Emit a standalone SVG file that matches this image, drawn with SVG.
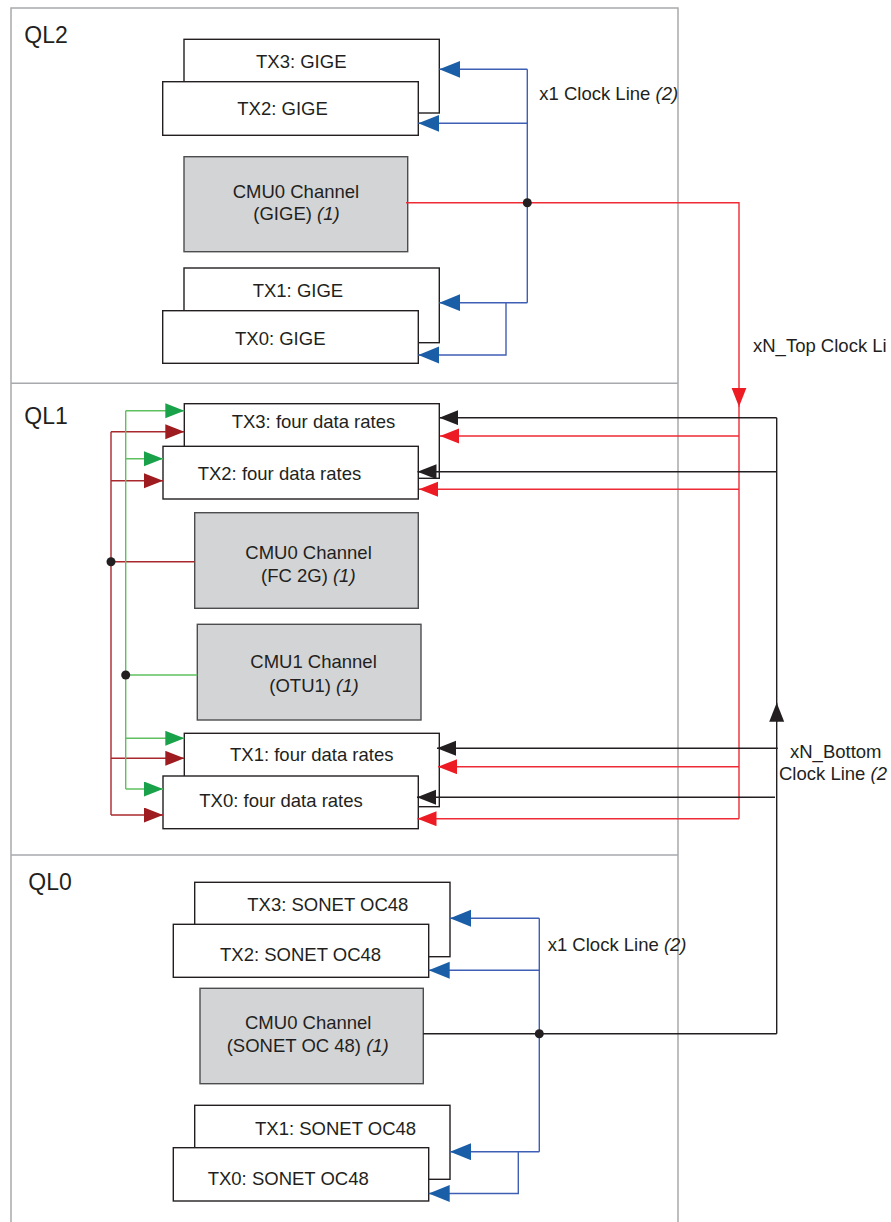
<svg xmlns="http://www.w3.org/2000/svg" width="891" height="1222" viewBox="0 0 891 1222">
<style>
text{font-family:"Liberation Sans",Arial,sans-serif;font-size:18.5px;fill:#231f20}
.ql{font-size:23px}
.it{font-style:italic}
.box{fill:#fff;stroke:#231f20;stroke-width:1.4}
.cmu{fill:#d3d4d6;stroke:#4d4d4f;stroke-width:1.4}
.frame{fill:none;stroke:#a7a9ac;stroke-width:1.5}
.blue{fill:none;stroke:#3f5fb5;stroke-width:1.4}
.red{fill:none;stroke:#ee2a35;stroke-width:1.4}
.dred{fill:none;stroke:#a8282d;stroke-width:1.4}
.green{fill:none;stroke:#5fc060;stroke-width:1.4}
.black{fill:none;stroke:#231f20;stroke-width:1.4}
.dot{fill:#231f20}
</style>
<defs>
<marker id="aBlue" markerUnits="userSpaceOnUse" markerWidth="22" markerHeight="18" refX="21" refY="8.5" orient="auto"><path d="M0,0 L21,8.5 L0,17 Z" fill="#1a5ea8"/></marker>
<marker id="aRed" markerUnits="userSpaceOnUse" markerWidth="20" markerHeight="16" refX="19" refY="7.5" orient="auto"><path d="M0,0 L19,7.5 L0,15 Z" fill="#ed1c24"/></marker>
<marker id="aDred" markerUnits="userSpaceOnUse" markerWidth="20" markerHeight="16" refX="19" refY="7.5" orient="auto"><path d="M0,0 L19,7.5 L0,15 Z" fill="#9e1b20"/></marker>
<marker id="aGreen" markerUnits="userSpaceOnUse" markerWidth="20" markerHeight="16" refX="19" refY="7.5" orient="auto"><path d="M0,0 L19,7.5 L0,15 Z" fill="#1aa24a"/></marker>
<marker id="aBlack" markerUnits="userSpaceOnUse" markerWidth="20" markerHeight="16" refX="19" refY="7.5" orient="auto"><path d="M0,0 L19,7.5 L0,15 Z" fill="#231f20"/></marker>
</defs>
<rect width="891" height="1222" fill="#fff"/>

<g id="frame">
<path class="frame" d="M11,1222 V8 H678 V1222"/>
<line class="frame" x1="11" y1="383.3" x2="678" y2="383.3"/>
<line class="frame" x1="11" y1="855" x2="678" y2="855"/>
<text class="ql" x="24.3" y="43.3">QL2</text>
<text class="ql" x="24.3" y="423.5">QL1</text>
<text class="ql" x="28.3" y="890">QL0</text>
</g>

<!-- QL2 nodes -->
<g id="ql2-tx3"><rect class="box" x="184" y="39.3" width="255.3" height="73.7"/><text x="256" y="68.3">TX3: GIGE</text></g>
<g id="ql2-tx2"><rect class="box" x="162.7" y="81.7" width="255.6" height="53.6"/><text x="237.3" y="115">TX2: GIGE</text></g>
<g id="ql2-cmu0"><rect class="cmu" x="184" y="156.7" width="223.7" height="95"/><text x="232.7" y="198.3">CMU0 Channel</text><text x="253.3" y="220">(GIGE) <tspan class="it">(1)</tspan></text></g>
<g id="ql2-tx1"><rect class="box" x="184" y="268" width="255.3" height="74.7"/><text x="252.7" y="296.7">TX1: GIGE</text></g>
<g id="ql2-tx0"><rect class="box" x="162.7" y="310.7" width="255.6" height="52.6"/><text x="235" y="345">TX0: GIGE</text></g>

<!-- QL1 nodes -->
<g id="ql1-tx3"><rect class="box" x="184.3" y="403.7" width="255" height="74.6"/><text x="231.7" y="428.3">TX3: four data rates</text></g>
<g id="ql1-tx2"><rect class="box" x="163" y="446.3" width="255.3" height="52.7"/><text x="197.7" y="480">TX2: four data rates</text></g>
<g id="ql1-cmu0"><rect class="cmu" x="194.7" y="512.7" width="223.6" height="95.6"/><text x="245.3" y="559.3">CMU0 Channel</text><text x="261" y="581.7">(FC 2G) <tspan class="it">(1)</tspan></text></g>
<g id="ql1-cmu1"><rect class="cmu" x="197.3" y="624.3" width="223.7" height="95.7"/><text x="250.3" y="668.3">CMU1 Channel</text><text x="269.3" y="691.7">(OTU1) <tspan class="it">(1)</tspan></text></g>
<g id="ql1-tx1"><rect class="box" x="184.3" y="733.3" width="255" height="73.4"/><text x="230" y="761">TX1: four data rates</text></g>
<g id="ql1-tx0"><rect class="box" x="163" y="776" width="255.3" height="52.7"/><text x="199.3" y="807.3">TX0: four data rates</text></g>

<!-- QL0 nodes -->
<g id="ql0-tx3"><rect class="box" x="194.7" y="882.3" width="255.3" height="74.4"/><text x="247.3" y="910.7">TX3: SONET OC48</text></g>
<g id="ql0-tx2"><rect class="box" x="173.3" y="924.3" width="255.4" height="53"/><text x="220" y="960.7">TX2: SONET OC48</text></g>
<g id="ql0-cmu0"><rect class="cmu" x="200" y="988.3" width="223.3" height="95.4"/><text x="245" y="1029.3">CMU0 Channel</text><text x="226.7" y="1051.7">(SONET OC 48) <tspan class="it">(1)</tspan></text></g>
<g id="ql0-tx1"><rect class="box" x="194.7" y="1105.3" width="255.3" height="74"/><text x="255" y="1135">TX1: SONET OC48</text></g>
<g id="ql0-tx0"><rect class="box" x="173.3" y="1147.7" width="255.4" height="53.3"/><text x="207.7" y="1185">TX0: SONET OC48</text></g>

<g id="connectors">
<!-- QL2 x1 clock (blue) -->
<path class="blue" d="M527.3,69.3 V302.7"/>
<line class="blue" x1="527.3" y1="69.3" x2="439.3" y2="69.3" marker-end="url(#aBlue)"/>
<line class="blue" x1="527.3" y1="123.3" x2="418.3" y2="123.3" marker-end="url(#aBlue)"/>
<line class="blue" x1="527.3" y1="302.7" x2="439.3" y2="302.7" marker-end="url(#aBlue)"/>
<path class="blue" d="M506,302.7 V355 H418.3" marker-end="url(#aBlue)"/>
<!-- xN_Top (red) -->
<path class="red" d="M406,202.7 H739 V406.7" marker-end="url(#aRed)"/>
<path class="red" d="M739,406 V818.7"/>
<line class="red" x1="739" y1="436" x2="440" y2="436" marker-end="url(#aRed)"/>
<line class="red" x1="739" y1="489.3" x2="419" y2="489.3" marker-end="url(#aRed)"/>
<line class="red" x1="739" y1="766.7" x2="438" y2="766.7" marker-end="url(#aRed)"/>
<line class="red" x1="739" y1="818.7" x2="417.5" y2="818.7" marker-end="url(#aRed)"/>
<circle class="dot" cx="527.3" cy="202.7" r="4.5"/>
<!-- xN_Bottom (black) -->
<path class="black" d="M776.7,1033.7 V702.7" marker-end="url(#aBlack)"/>
<path class="black" d="M776.7,722 V417.7"/>
<line class="black" x1="776.7" y1="417.7" x2="439.3" y2="417.7" marker-end="url(#aBlack)"/>
<line class="black" x1="776.7" y1="471.7" x2="417.5" y2="471.7" marker-end="url(#aBlack)"/>
<line class="black" x1="777.7" y1="748.3" x2="437" y2="748.3" marker-end="url(#aBlack)"/>
<line class="black" x1="775" y1="797.3" x2="417" y2="797.3" marker-end="url(#aBlack)"/>
<line class="black" x1="423.3" y1="1033.7" x2="776.7" y2="1033.7"/>
<!-- QL1 CMU0 (dark red) -->
<path class="dred" d="M111,431.7 V815"/>
<line class="dred" x1="111" y1="431.7" x2="184.3" y2="431.7" marker-end="url(#aDred)"/>
<line class="dred" x1="111" y1="480.7" x2="163" y2="480.7" marker-end="url(#aDred)"/>
<line class="dred" x1="111" y1="758.3" x2="184.3" y2="758.3" marker-end="url(#aDred)"/>
<line class="dred" x1="111" y1="815" x2="163" y2="815" marker-end="url(#aDred)"/>
<line class="dred" x1="111" y1="561.7" x2="194.7" y2="561.7"/>
<circle class="dot" cx="111" cy="561.7" r="4.5"/>
<!-- QL1 CMU1 (green) -->
<path class="green" d="M125.7,410.7 V789"/>
<line class="green" x1="125.7" y1="410.7" x2="184.3" y2="410.7" marker-end="url(#aGreen)"/>
<line class="green" x1="125.7" y1="458.7" x2="163" y2="458.7" marker-end="url(#aGreen)"/>
<line class="green" x1="125.7" y1="738.3" x2="184.3" y2="738.3" marker-end="url(#aGreen)"/>
<line class="green" x1="125.7" y1="789" x2="163" y2="789" marker-end="url(#aGreen)"/>
<line class="green" x1="125.7" y1="675" x2="197.3" y2="675"/>
<circle class="dot" cx="125.7" cy="675" r="4.5"/>
<!-- QL0 x1 clock (blue) -->
<path class="blue" d="M539.3,918.3 V1151.7"/>
<line class="blue" x1="539.3" y1="918.3" x2="450" y2="918.3" marker-end="url(#aBlue)"/>
<line class="blue" x1="539.3" y1="970.3" x2="428.7" y2="970.3" marker-end="url(#aBlue)"/>
<line class="blue" x1="539.3" y1="1151.7" x2="450" y2="1151.7" marker-end="url(#aBlue)"/>
<path class="blue" d="M518.3,1151.7 V1193.5 H428.7" marker-end="url(#aBlue)"/>
<circle class="dot" cx="539.3" cy="1033.7" r="4.5"/>
</g>

<g id="labels">
<text x="539.3" y="100">x1 Clock Line <tspan class="it">(2)</tspan></text>
<text x="753" y="352">xN_Top Clock Li</text>
<text x="790" y="758">xN_Bottom</text>
<text x="779" y="780">Clock Line <tspan class="it">(2</tspan></text>
<text x="547.7" y="950.7">x1 Clock Line <tspan class="it">(2)</tspan></text>
</g>
</svg>
